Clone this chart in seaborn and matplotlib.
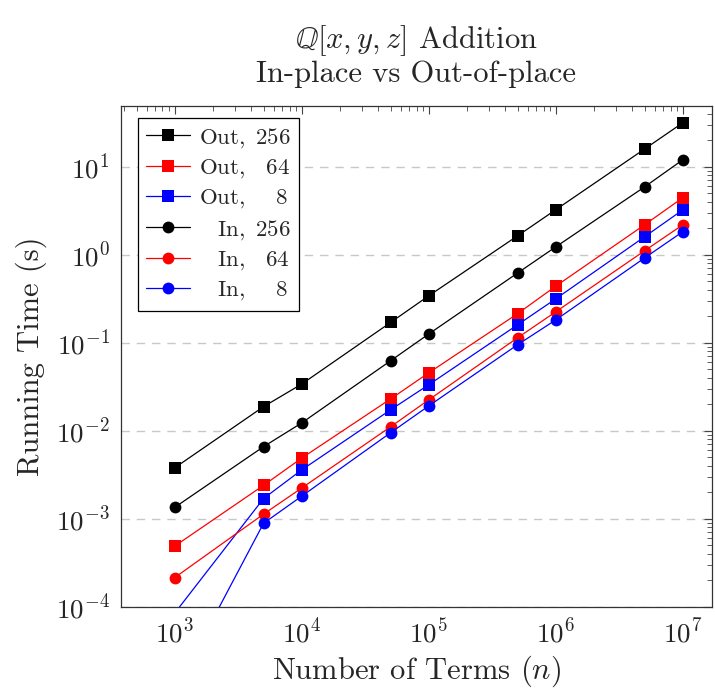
import numpy as np
import pandas as pd
import matplotlib
matplotlib.use("Agg")
import matplotlib.pyplot as plt
import seaborn as sns
from matplotlib.ticker import LogLocator, NullFormatter

# ---- data ----
n_terms = [1e3, 5e3, 1e4, 5e4, 1e5, 5e5, 1e6, 5e6, 1e7]
out_256 = [0.0038, 0.0188, 0.034, 0.17, 0.342, 1.64, 3.25, 15.9, 31.6]
out_64 = [0.00049, 0.0024, 0.0049, 0.023, 0.0456, 0.214, 0.44, 2.19, 4.45]
out_8 = [8.5e-5, 0.0017, 0.0036, 0.0173, 0.0334, 0.16, 0.316, 1.6, 3.24]
in_256 = [0.00135, 0.0066, 0.0123, 0.0624, 0.126, 0.62, 1.23, 5.9, 12.0]
in_64 = [0.000215, 0.00113, 0.00224, 0.0111, 0.0225, 0.114, 0.225, 1.11, 2.19]
in_8 = [1.1e-5, 0.00089, 0.00181, 0.0095, 0.0192, 0.095, 0.182, 0.92, 1.83]

series_names = ["Out, 256", "Out, 64", "Out, 8", "In, 256", "In, 64", "In, 8"]
series_values = [out_256, out_64, out_8, in_256, in_64, in_8]
legend_labels = [
    r"$\mathrm{Out,\ 256}$",
    r"$\mathrm{Out,\ \enspace 64}$",
    r"$\mathrm{Out,\ \enspace\enspace 8}$",
    r"$\mathrm{\hspace{0.9}In,\ 256}$",
    r"$\mathrm{\hspace{0.9}In,\ \enspace 64}$",
    r"$\mathrm{\hspace{0.9}In,\ \enspace\enspace 8}$",
]

rows = []
for name, vals in zip(series_names, series_values):
    for x, y in zip(n_terms, vals):
        rows.append({"n": x, "time": y, "series": name})
df = pd.DataFrame(rows)

sns.set_theme(style="white")
plt.rcParams["font.family"] = ["cmr10", "DejaVu Serif"]
plt.rcParams["mathtext.fontset"] = "cm"
plt.rcParams["axes.formatter.use_mathtext"] = True
plt.rcParams["axes.unicode_minus"] = False

palette = {"Out, 256": "black", "Out, 64": "red", "Out, 8": "blue",
           "In, 256": "black", "In, 64": "red", "In, 8": "blue"}
markers = {"Out, 256": "s", "Out, 64": "s", "Out, 8": "s",
           "In, 256": "o", "In, 64": "o", "In, 8": "o"}

fig = plt.figure(figsize=(7.15, 6.88), dpi=100)
ax = fig.add_axes([0.169, 0.118, 0.827, 0.728])

sns.lineplot(data=df, x="n", y="time", hue="series", style="series",
             hue_order=series_names, style_order=series_names,
             palette=palette, markers=markers, dashes=False,
             markersize=8.5, markeredgewidth=0, linewidth=0.9, ax=ax)

ax.set_xscale("log")
ax.set_yscale("log")
ax.set_xlim(376, 1.7e7)
ax.set_ylim(1e-4, 49)

ax.xaxis.set_major_locator(LogLocator(base=10, numticks=20))
ax.yaxis.set_major_locator(LogLocator(base=10, numticks=20))
ax.xaxis.set_minor_locator(LogLocator(base=10, subs=np.arange(2, 10), numticks=100))
ax.yaxis.set_minor_locator(LogLocator(base=10, subs=np.arange(2, 10), numticks=100))
ax.xaxis.set_minor_formatter(NullFormatter())
ax.yaxis.set_minor_formatter(NullFormatter())

ax.tick_params(which="both", direction="in", top=True, right=True, color="#444444")
ax.tick_params(which="major", length=6, width=0.8, labelsize=19.5, pad=8)
ax.tick_params(which="minor", length=3.5, width=0.6)

for sp in ax.spines.values():
    sp.set_color("#333333")
    sp.set_linewidth(0.9)

ax.yaxis.grid(True, which="major", linestyle=(0, (6, 5)), color="#c8c8c8", linewidth=1.0)
ax.xaxis.grid(False)
ax.set_axisbelow(True)

ax.set_xlabel(r"Number of Terms ($n$)", fontsize=22, labelpad=4)
ax.set_ylabel("Running Time (s)", fontsize=22, labelpad=6)
ax.set_title("$\\mathbb{Q}[x,y,z]$ Addition\nIn-place vs Out-of-place",
             fontsize=22, pad=17, linespacing=1.15)

handles, _ = ax.get_legend_handles_labels()
leg = ax.legend(handles[-6:], legend_labels, loc="upper left",
                bbox_to_anchor=(0.029, 0.976), borderaxespad=0,
                fontsize=16.5, frameon=True, fancybox=False, shadow=False,
                edgecolor="black", framealpha=1, handlelength=1.9,
                labelspacing=0.33, handletextpad=0.4, borderpad=0.35)
leg.get_frame().set_linewidth(0.9)

fig.savefig("out.png", dpi=100)
